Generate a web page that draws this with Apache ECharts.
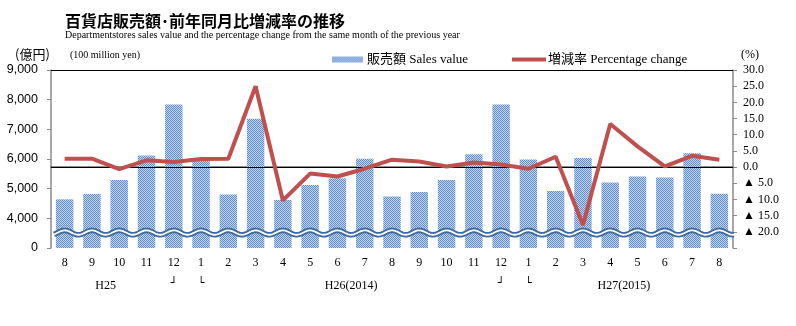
<!DOCTYPE html>
<html>
<head>
<meta charset="utf-8">
<script src="https://cdn.jsdelivr.net/npm/echarts@6/dist/echarts.min.js"></script>
<style>html,body{margin:0;padding:0;background:#fff}#c{width:796px;height:326px}</style>
</head>
<body>
<div id="c"></div>
<script>
// ---- data ----
var categories = ['8','9','10','11','12','1','2','3','4','5','6','7','8','9','10','11','12','1','2','3','4','5','6','7','8'];
var salesValue = [4640,4820,5290,6120,7840,6030,4800,7360,4620,5120,5350,6010,4740,4890,5290,6160,7840,5980,4920,6030,5210,5410,5380,6190,4830];
var pctChange = [2.6,2.6,-0.6,2.1,1.6,2.5,2.6,25.0,-10.3,-2.0,-2.9,-0.5,2.3,1.7,0.2,1.4,0.8,-0.5,3.2,-17.9,13.3,6.4,0.2,3.5,2.3];
var eraLabels = [
  {idx: 1.5, text: 'H25'},
  {idx: 4, text: '┘'},
  {idx: 5, text: '└'},
  {idx: 10.5, text: 'H26(2014)'},
  {idx: 16, text: '┘'},
  {idx: 17, text: '└'},
  {idx: 20.5, text: 'H27(2015)'}
];
var leftTicks = {min: 3000, max: 9000, interval: 1000};
var rightTicks = {min: -25, max: 30, interval: 5};
var seriesNames = ['販売額 Sales value', '増減率 Percentage change'];

var SERIF = "'Liberation Serif','Times New Roman',serif";
var MIX = "'Liberation Serif','Noto Sans CJK JP',serif";

// bar pattern (fine blue checker)
var tile = document.createElement('canvas');
tile.width = 2; tile.height = 2;
var tc = tile.getContext('2d');
for (var y = 0; y < 2; y++) {
  for (var x = 0; x < 2; x++) {
    tc.fillStyle = ((x + y) % 2 === 0) ? '#5f8dd0' : '#c2d5f0';
    tc.fillRect(x, y, 1, 1);
  }
}
var barPattern = {image: tile, repeat: 'repeat'};

var chart = echarts.init(document.getElementById('c'), null, {renderer: 'canvas'});

var option = {
  animation: false,
  backgroundColor: '#fff',
  grid: {left: 51, right: 63, top: 70, bottom: 78, containLabel: false},
  legend: [
    {data: [{name: seriesNames[0], icon: 'rect'}], left: 332, top: 53, padding: 0, itemWidth: 31, itemHeight: 6, itemGap: 0,
     textStyle: {fontFamily: MIX, fontSize: 13, color: '#000', padding: [0, 0, 0, -1]}},
    {data: [{name: seriesNames[1], icon: 'rect'}], left: 512, top: 53, padding: 0, itemWidth: 34, itemHeight: 4, itemGap: 0,
     itemStyle: {color: '#c0504d'},
     textStyle: {fontFamily: MIX, fontSize: 13, color: '#000', padding: [0, 0, 0, -3]}}
  ],
  xAxis: {
    type: 'category',
    data: categories,
    boundaryGap: true,
    axisLine: {lineStyle: {color: '#6b6b6b', width: 1.5}},
    axisTick: {show: false},
    axisLabel: {fontFamily: SERIF, fontSize: 12, color: '#000', margin: 9, interval: 0}
  },
  yAxis: [
    {
      type: 'value', min: leftTicks.min, max: leftTicks.max, interval: leftTicks.interval,
      position: 'left',
      axisLine: {show: true, lineStyle: {color: '#8a8a8a', width: 1.5}},
      axisTick: {show: true, length: 4, lineStyle: {color: '#8a8a8a'}},
      splitLine: {show: false},
      axisLabel: {
        fontFamily: "'Liberation Sans','Noto Sans',sans-serif", fontSize: 12.5, color: '#000', margin: 13,
        formatter: function (v) { return v === leftTicks.min ? '0' : v.toLocaleString('en-US'); }
      }
    },
    {
      type: 'value', min: rightTicks.min, max: rightTicks.max, interval: rightTicks.interval,
      position: 'right',
      axisLine: {show: true, lineStyle: {color: '#8a8a8a', width: 1.5}},
      axisTick: {show: true, length: 4, lineStyle: {color: '#8a8a8a'}},
      splitLine: {show: false},
      axisLabel: {
        fontFamily: SERIF, fontSize: 12, color: '#000', margin: 10,
        formatter: function (v) {
          if (v === rightTicks.min) return '';
          if (v < 0) return '▲ ' + (-v).toFixed(1);
          return v.toFixed(1);
        }
      }
    }
  ],
  series: [
    {
      name: seriesNames[0], type: 'bar', yAxisIndex: 0, data: salesValue,
      barWidth: '64%',
      itemStyle: {color: barPattern},
      z: 2,
      markLine: {
        silent: true, symbol: 'none', label: {show: false},
        lineStyle: {color: '#000', width: 1, type: 'solid'},
        data: [{yAxis: leftTicks.max}]
      }
    },
    {
      name: seriesNames[1], type: 'line', yAxisIndex: 1, data: pctChange,
      symbol: 'none', showSymbol: false,
      lineStyle: {color: '#c0504d', width: 4},
      itemStyle: {color: '#c0504d'},
      z: 5,
      markLine: {
        silent: true, symbol: 'none', label: {show: false},
        lineStyle: {color: '#000', width: 1, type: 'solid'},
        data: [{yAxis: 0}], z: 3
      }
    }
  ]
};
chart.setOption(option);

// decorations computed from axes
var c0 = chart.convertToPixel({xAxisIndex: 0}, 0);
var c1 = chart.convertToPixel({xAxisIndex: 0}, 1);
var band = c1 - c0;
var xStart = c0 - band / 2 + 3;
var xEnd = chart.convertToPixel({xAxisIndex: 0}, categories.length - 1) + band / 2 + 1;
var waveY = chart.convertToPixel({yAxisIndex: 0}, 3520);
var pts = [];
for (var px = xStart; px <= xEnd; px += 1) {
  pts.push([px, waveY - 2.2 * Math.cos(2 * Math.PI * (px - c0) / band)]);
}
var graphics = [
  {type: 'polyline', shape: {points: pts}, style: {stroke: '#3e6a9e', lineWidth: 5.5, fill: null}, z: 10},
  {type: 'polyline', shape: {points: pts}, style: {stroke: '#ffffff', lineWidth: 1.8, fill: null}, z: 11},
  {type: 'text', left: 65, top: 13, style: {text: '百貨店販売額･前年同月比増減率の推移', font: "bold 16px 'Noto Sans CJK JP'", fill: '#000'}},
  {type: 'text', left: 65, top: 30, style: {text: 'Departmentstores sales value and the percentage change from the same month of the previous year', font: "10px 'Liberation Serif'", fill: '#000'}},
  {type: 'text', left: 15, top: 48, style: {text: '(億円)', font: "13px 'Noto Sans CJK JP'", fill: '#000'}},
  {type: 'text', left: 70, top: 50, style: {text: '(100 million yen)', font: "10px 'Liberation Serif'", fill: '#000'}},
  {type: 'text', left: 741, top: 49, style: {text: '(%)', font: "12px 'Liberation Serif'", fill: '#000'}}
];
eraLabels.forEach(function (e) {
  var x = chart.convertToPixel({xAxisIndex: 0}, Math.floor(e.idx));
  if (e.idx % 1 !== 0) x += band * (e.idx % 1);
  var isMark = e.text.length === 1;
  graphics.push({
    type: 'text', x: x, y: isMark ? 283 : 286,
    style: {text: e.text, font: isMark ? "11px 'DejaVu Sans'" : "12px 'Liberation Serif'", fill: '#000', align: 'center', verticalAlign: 'middle'}
  });
});
chart.setOption({graphic: graphics});
</script>
</body>
</html>
